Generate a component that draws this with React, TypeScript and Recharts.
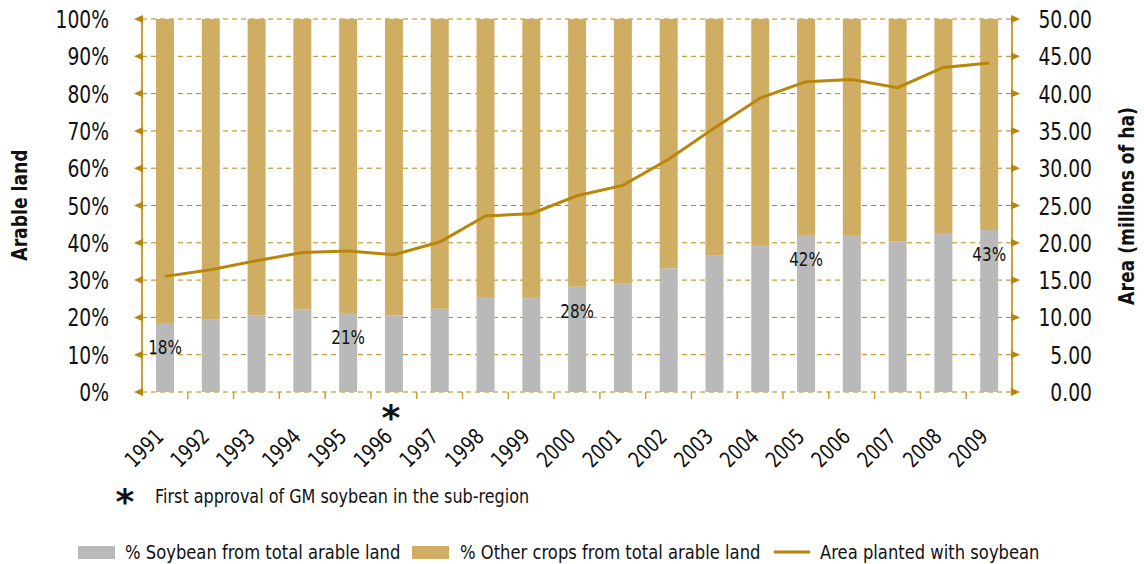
import { ComposedChart, Bar, Line, XAxis, YAxis, CartesianGrid, LabelList } from 'recharts'

const years = ['1991', '1992', '1993', '1994', '1995', '1996', '1997', '1998', '1999', '2000', '2001', '2002', '2003', '2004', '2005', '2006', '2007', '2008', '2009']
const soyShare = [18.5, 19.4, 20.6, 22.1, 21.2, 20.5, 22.3, 25.5, 25.5, 28.2, 29, 33.2, 36.5, 39.4, 42.1, 42.1, 40.3, 42.6, 43.4]
const soyArea = [15.5, 16.4, 17.6, 18.7, 18.9, 18.4, 20.1, 23.6, 23.9, 26.3, 27.7, 31.2, 35.4, 39.4, 41.6, 41.9, 40.8, 43.5, 44.1]
const shareLabels = ['18%', '', '', '', '21%', '', '', '', '', '28%', '', '', '', '', '42%', '', '', '', '43%']
const leftTicks = [0, 10, 20, 30, 40, 50, 60, 70, 80, 90, 100]
const rightTicks = [0, 5, 10, 15, 20, 25, 30, 35, 40, 45, 50]
const approvalYear = '1996'

const data = years.map((y, i) => ({
  year: y,
  soy: soyShare[i],
  other: 100 - soyShare[i],
  area: soyArea[i],
  label: shareLabels[i],
}))

const FONT = '"DejaVu Sans", sans-serif'
const GOLD = '#b8860b'
const AXIS = '#c9a03a'
const GREY = '#b9b9b9'
const TAN = '#cfae64'
const W = 1144
const H = 564
const LEFT = 142
const RIGHT = 1012
const TOP = 19
const BOTTOM = 392
const XH = 60
const BAND = (RIGHT - LEFT) / years.length

// text squeezed horizontally to mimic the condensed face of the original
const Txt = ({ x, y, rot = 0, size, sq = 0.78, anchor = 'start', bold = false, children }: any) => (
  <text
    x={0}
    y={0}
    textAnchor={anchor}
    fontSize={size}
    fontWeight={bold ? 'bold' : 'normal'}
    fontFamily={FONT}
    fill="#111"
    transform={`translate(${x}, ${y}) rotate(${rot}) scale(${sq}, 1)`}
  >
    {children}
  </text>
)

const LeftTick = (props: any) => {
  const { y, payload } = props
  return (
    <g>
      <polygon points={`${LEFT - 8},${y} ${LEFT + 1},${y - 4} ${LEFT + 1},${y + 4}`} fill={GOLD} />
      <Txt x={LEFT - 33} y={y + 9} size={24} anchor="end">
        {payload.value}%
      </Txt>
    </g>
  )
}

const RightTick = (props: any) => {
  const { y, payload } = props
  return (
    <g>
      <polygon points={`${RIGHT + 8},${y} ${RIGHT - 1},${y - 4} ${RIGHT - 1},${y + 4}`} fill={GOLD} />
      <Txt x={RIGHT + 80} y={y + 9} size={24} anchor="end">
        {Number(payload.value).toFixed(2)}
      </Txt>
    </g>
  )
}

const YearTick = (props: any) => {
  const { x, payload, index } = props
  const bx = x + BAND / 2
  return (
    <g>
      {index < years.length - 1 && <line x1={bx} y1={BOTTOM} x2={bx} y2={BOTTOM + 7} stroke={AXIS} strokeWidth={1.5} />}
      <Txt x={x} y={BOTTOM + 46} rot={-45} size={22} anchor="end">
        {payload.value}
      </Txt>
      {payload.value === approvalYear && (
        <Txt x={x - 3} y={BOTTOM + 38} size={36} sq={1} anchor="middle" bold>
          *
        </Txt>
      )}
    </g>
  )
}

const ShareLabel = (props: any) => {
  const { x, y, width, value } = props
  if (!value) return null
  return (
    <Txt x={x + width / 2} y={y + 31} size={19} sq={0.8} anchor="middle">
      {value}
    </Txt>
  )
}

export default function App() {
  return (
    <div style={{ position: 'fixed', left: 0, top: 0, width: W, height: H, background: '#fff' }}>
      <ComposedChart
        width={W}
        height={H}
        data={data}
        barSize={18}
        margin={{ top: TOP, right: 0, bottom: H - BOTTOM - XH, left: 0 }}
      >
        <CartesianGrid yAxisId="left" vertical={false} stroke={GOLD} strokeDasharray="5 4" />
        <XAxis dataKey="year" axisLine={false} tickLine={false} tick={<YearTick />} interval={0} height={XH} />
        <YAxis
          yAxisId="left"
          orientation="left"
          domain={[0, 100]}
          ticks={leftTicks}
          tick={<LeftTick />}
          tickLine={false}
          axisLine={{ stroke: AXIS, strokeWidth: 2 }}
          width={LEFT}
        />
        <YAxis
          yAxisId="right"
          orientation="right"
          domain={[0, 50]}
          ticks={rightTicks}
          tick={<RightTick />}
          tickLine={false}
          axisLine={{ stroke: AXIS, strokeWidth: 2 }}
          width={W - RIGHT}
        />
        <Bar yAxisId="left" dataKey="soy" stackId="a" fill={GREY} isAnimationActive={false}>
          <LabelList dataKey="label" content={<ShareLabel />} />
        </Bar>
        <Bar yAxisId="left" dataKey="other" stackId="a" fill={TAN} isAnimationActive={false} />
        <Line yAxisId="right" dataKey="area" type="linear" stroke={GOLD} strokeWidth={3} dot={false} isAnimationActive={false} />
        <Txt x={27} y={205} rot={-90} size={21} sq={0.82} anchor="middle" bold>
          Arable land
        </Txt>
        <Txt x={1134} y={206} rot={-90} size={21} sq={0.82} anchor="middle" bold>
          Area (millions of ha)
        </Txt>
        <Txt x={125} y={514} size={36} sq={1} anchor="middle" bold>
          *
        </Txt>
        <Txt x={155} y={503} size={20} sq={0.8}>
          First approval of GM soybean in the sub-region
        </Txt>
        <rect x={78} y={546} width={37} height={13} fill={GREY} />
        <Txt x={125} y={559} size={20} sq={0.82}>
          % Soybean from total arable land
        </Txt>
        <rect x={412} y={546} width={37} height={13} fill={TAN} />
        <Txt x={460} y={559} size={20} sq={0.82}>
          % Other crops from total arable land
        </Txt>
        <line x1={774} y1={552} x2={810} y2={552} stroke={GOLD} strokeWidth={3} />
        <Txt x={820} y={559} size={20} sq={0.82}>
          Area planted with soybean
        </Txt>
      </ComposedChart>
    </div>
  )
}
